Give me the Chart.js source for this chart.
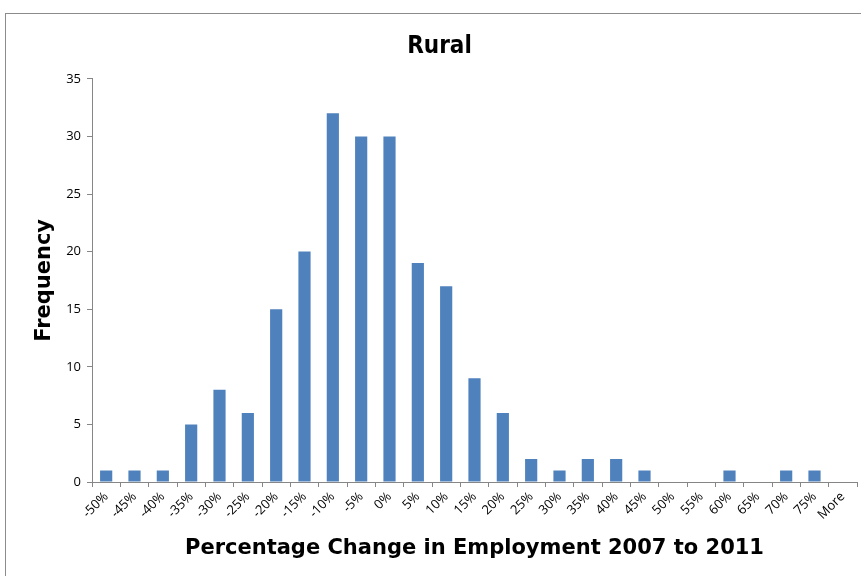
<!DOCTYPE html>
<html>
<head>
<meta charset="utf-8">
<script src="https://cdn.jsdelivr.net/npm/chart.js@4"></script>
<style>
  body { margin: 0; background: #fff; }
  #wrap { position: relative; width: 861px; height: 576px; overflow: hidden; }
  #frame { position: absolute; left: 5px; top: 13px; width: 900px; height: 600px; border: 1px solid #8c8c8c; }
  canvas { position: absolute; left: 0; top: 0; }
</style>
</head>
<body>
<div id="wrap">
  <div id="frame"></div>
  <canvas id="histChart" width="861" height="576"></canvas>
</div>
<script>
// bins of the histogram
const bins = ['-50%', '-45%', '-40%', '-35%', '-30%', '-25%', '-20%', '-15%', '-10%', '-5%', '0%', '5%',
  '10%', '15%', '20%', '25%', '30%', '35%', '40%', '45%', '50%', '55%', '60%', '65%', '70%', '75%', 'More'];
// how many counties fell in each bin
const frequency = [1, 1, 1, 5, 8, 6, 15, 20, 32, 30, 30, 19, 17, 9, 6, 2, 1, 2, 2, 1, 0, 0, 1, 0, 1, 1, 0];
const yTicks = [0, 5, 10, 15, 20, 25, 30, 35];

const axisGray = '#868686';

let ctx = document.getElementById('histChart').getContext('2d');

let histChart = new Chart(ctx, {
    type: 'bar',
    data: {
        labels: bins,
        datasets: [{
            label: 'Frequency',
            data: frequency,
            backgroundColor: '#4F81BD',
            borderWidth: 0,
            categoryPercentage: 1,
            barPercentage: 0.43
        }]
    },
    options: {
        responsive: false,
        animation: false,
        layout: {
            padding: { left: 22, right: 4, top: 0, bottom: 0 }
        },
        plugins: {
            legend: { display: false },
            tooltip: { enabled: false },
            title: {
                display: true,
                text: 'Rural',
                color: '#000',
                font: { family: 'DejaVu Sans Condensed, DejaVu Sans', size: 24, weight: 'bold' },
                padding: { top: 32, bottom: 18 }
            }
        },
        scales: {
            x: {
                grid: {
                    display: true,
                    offset: true,
                    drawOnChartArea: false,
                    drawTicks: true,
                    tickLength: 5,
                    color: axisGray
                },
                border: { display: true, color: axisGray, width: 1 },
                ticks: {
                    minRotation: 45,
                    maxRotation: 45,
                    autoSkip: false,
                    color: '#000',
                    padding: 2,
                    font: { family: 'Open Sans', size: 13 }
                },
                title: {
                    display: true,
                    text: 'Percentage Change in Employment 2007 to 2011',
                    color: '#000',
                    font: { family: 'DejaVu Sans', size: 21, weight: 'bold' },
                    padding: { top: 0, bottom: 15 }
                },
                afterFit: function (scale) { scale.height = 94; }
            },
            y: {
                min: 0,
                max: 35,
                afterBuildTicks: function (scale) {
                    scale.ticks = yTicks.map(v => ({ value: v }));
                },
                grid: {
                    display: true,
                    drawOnChartArea: false,
                    drawTicks: true,
                    tickLength: 5,
                    color: axisGray
                },
                border: { display: true, color: axisGray, width: 1 },
                ticks: {
                    color: '#000',
                    padding: 6,
                    font: { family: 'Open Sans', size: 13 }
                },
                title: {
                    display: true,
                    text: 'Frequency',
                    color: '#000',
                    font: { family: 'DejaVu Sans', size: 21, weight: 'bold' },
                    padding: { top: 10, bottom: 0 }
                },
                afterFit: function (scale) { scale.width = 70; }
            }
        }
    }
});
</script>
</body>
</html>
